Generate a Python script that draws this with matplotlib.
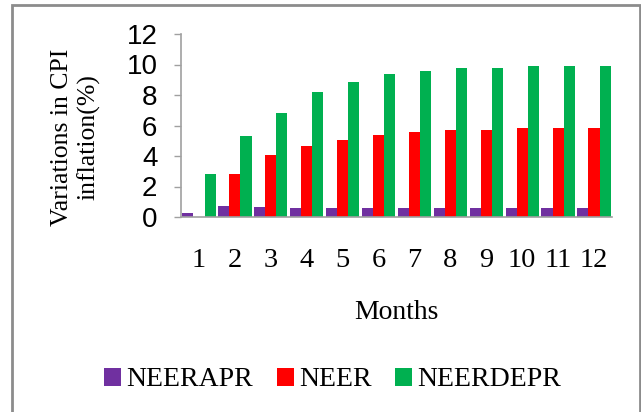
import numpy as np
import matplotlib.pyplot as plt
from matplotlib.patches import Rectangle

months = [str(m) for m in range(1, 13)]
neerapr = [0.26, 0.75, 0.67, 0.58, 0.58, 0.58, 0.58, 0.58, 0.58, 0.58, 0.58, 0.58]
neer = [0.0, 2.85, 4.04, 4.63, 5.07, 5.40, 5.55, 5.72, 5.72, 5.81, 5.81, 5.81]
neerdepr = [2.85, 5.30, 6.82, 8.18, 8.84, 9.37, 9.60, 9.77, 9.77, 9.87, 9.87, 9.87]

SERIF = 'Liberation Serif'
SANS = 'Liberation Sans'

fig = plt.figure(figsize=(6.41, 4.12), dpi=100)
ax = fig.add_axes([181 / 641, 1 - 217 / 412, (612 - 181) / 641, (217 - 34) / 412])

x = np.arange(1, len(months) + 1)
w = 0.31
ax.bar(x - w, neerapr, w, color='#7030A0', label='NEERAPR')
ax.bar(x, neer, w, color='#FF0000', label='NEER')
ax.bar(x + w, neerdepr, w, color='#00B050', label='NEERDEPR')

ax.set_xlim(0.5, 12.5)
ax.set_ylim(0, 12)
ax.set_yticks(range(0, 13, 2))
ax.set_xticks(x)
ax.set_xticklabels(months, fontfamily=SERIF, fontsize=20.5)
for lab in ax.get_yticklabels():
    lab.set_fontfamily(SANS)
    lab.set_fontsize(20)

for s in ['top', 'right']:
    ax.spines[s].set_visible(False)
for s in ['left', 'bottom']:
    ax.spines[s].set_color('#A0A0A0')
    ax.spines[s].set_linewidth(1.2)
ax.tick_params(axis='y', length=5, width=1, color='#A0A0A0', pad=12)
ax.tick_params(axis='x', length=0, pad=22)

ax.set_xlabel('Months', fontfamily=SERIF, fontsize=20, labelpad=20)
fig.text(76 / 641, 1 - 137 / 412, 'Variations in CPI\ninflation(%)',
         rotation=90, ha='center', va='center', multialignment='center',
         fontfamily=SERIF, fontsize=18.5, linespacing=1.2)

leg = fig.legend(loc='center', bbox_to_anchor=(333 / 641, 1 - 380 / 412), ncol=3,
                 frameon=False, prop={'family': SERIF, 'size': 20},
                 handlelength=0.6, handleheight=0.6, handletextpad=0.2,
                 columnspacing=0.85)

# outer chart border
fig.patches.append(Rectangle((12 / 641, -0.05), (640 - 12) / 641, 1.05 - 5 / 412,
                             transform=fig.transFigure, fill=False,
                             edgecolor='#8C8C8C', linewidth=2))

fig.savefig('out.png', dpi=100)
